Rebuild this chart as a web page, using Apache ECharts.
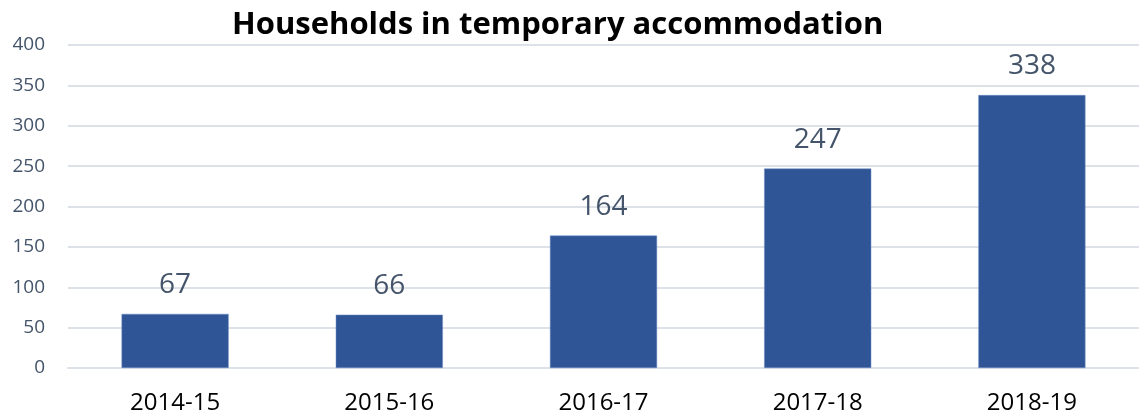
<!DOCTYPE html>
<html>
<head>
<meta charset="utf-8">
<script src="https://cdn.jsdelivr.net/npm/echarts@6/dist/echarts.min.js"></script>
<style>
    html, body { margin: 0; padding: 0; background: #fff; }
    #chart { width: 1139px; height: 419px; }
</style>
</head>
<body>
<!-- 柱状图容器 -->
<div id="chart"></div>
<script>
// 数据
const years = ['2014-15', '2015-16', '2016-17', '2017-18', '2018-19']
const households = [67, 66, 164, 247, 338]
const yTicks = [0, 50, 100, 150, 200, 250, 300, 350, 400]

const myChart = echarts.init(document.getElementById('chart'))
myChart.setOption({
    animation: false,
    title: {
        text: 'Households in temporary accommodation',
        left: 227,
        top: 5,
        textStyle: {
            fontFamily: 'Open Sans',
            fontWeight: 'bold',
            fontSize: 31,
            color: '#000000'
        }
    },
    grid: {
        left: 68,
        right: 0,
        top: 45,
        bottom: 51
    },
    xAxis: {
        type: 'category',
        data: years,
        axisLine: { show: true, lineStyle: { color: '#DDE2E9', width: 2 } },
        axisTick: { show: false },
        axisLabel: {
            margin: 23,
            fontFamily: 'Open Sans',
            fontSize: 24,
            color: '#000000'
        }
    },
    yAxis: {
        type: 'value',
        min: yTicks[0],
        max: yTicks[yTicks.length - 1],
        interval: 50,
        axisLine: { show: false },
        axisTick: { show: false },
        splitLine: { lineStyle: { color: '#DDE2E9', width: 2 } },
        axisLabel: {
            margin: 23,
            fontFamily: 'Open Sans',
            fontSize: 19,
            color: '#44546A'
        }
    },
    series: [{
        name: 'Households',
        type: 'bar',
        data: households,
        barWidth: '50%',
        itemStyle: {
            color: '#2F5597',
            borderColor: '#6F8FC4',
            borderWidth: 0.5
        },
        label: {
            show: true,
            position: 'top',
            distance: 15,
            fontFamily: 'Open Sans',
            fontSize: 28,
            color: '#44546A'
        }
    }]
})
</script>
</body>
</html>
